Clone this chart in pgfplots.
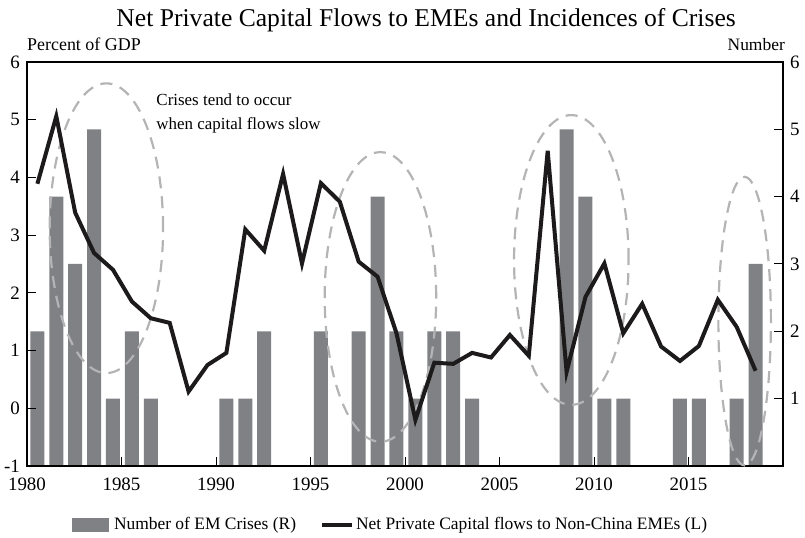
\documentclass[border=0pt]{standalone}
\usepackage{pgfplots}
\pgfplotsset{compat=1.18}
\usepackage{pgfplotstable}
\usepackage{fontspec}
\setmainfont{Liberation Serif}

\definecolor{barcol}{RGB}{128,129,132}
\definecolor{ellcol}{RGB}{180,180,182}
\definecolor{linecol}{RGB}{28,26,26}

% number of EM crises (right axis)
\pgfplotstableread{
year crises
1980 2
1981 4
1982 3
1983 5
1984 1
1985 2
1986 1
1987 0
1988 0
1989 0
1990 1
1991 1
1992 2
1993 0
1994 0
1995 2
1996 0
1997 2
1998 4
1999 2
2000 1
2001 2
2002 2
2003 1
2004 0
2005 0
2006 0
2007 0
2008 5
2009 4
2010 1
2011 1
2012 0
2013 0
2014 1
2015 1
2016 0
2017 1
2018 3
}\crisestable

% net private capital flows, percent of GDP (left axis)
\pgfplotstableread{
year flows
1980 3.89
1981 5.06
1982 3.39
1983 2.69
1984 2.40
1985 1.85
1986 1.56
1987 1.48
1988 0.29
1989 0.75
1990 0.96
1991 3.10
1992 2.73
1993 4.06
1994 2.51
1995 3.90
1996 3.58
1997 2.54
1998 2.28
1999 1.30
2000 -0.20
2001 0.79
2002 0.77
2003 0.96
2004 0.88
2005 1.27
2006 0.91
2007 4.46
2008 0.63
2009 1.93
2010 2.51
2011 1.30
2012 1.81
2013 1.07
2014 0.82
2015 1.08
2016 1.88
2017 1.41
2018 0.65
}\flowtable

\begin{document}
\begin{tikzpicture}
\useasboundingbox (-27bp,-72bp) rectangle (778bp,466bp);
\pgfplotsset{
  base/.style={
    scale only axis, width=756bp, height=404bp,
    at={(0,0)}, anchor=south west,
    xmin=1980, xmax=2020,
    tick align=inside, major tick length=9bp,
    tick style={line width=1bp, black},
    axis line style={line width=2.6bp, black},
    tick label style={font=\fontsize{19}{19}\selectfont, inner sep=1bp},
    /pgf/number format/assume math mode=true,
  },
}

% bars on the right axis
\begin{axis}[base,
  hide x axis,
  axis y line*=right,
  ymin=0, ymax=6, ytick={1,...,6},
  yticklabel style={xshift=6bp},
]
\addplot[ybar, bar width=14bp, fill=barcol, draw=none, x filter/.expression={x+0.55}]
  table[x=year, y=crises] {\crisestable};
\end{axis}

% line on the left axis
\begin{axis}[base,
  clip mode=individual,
  tick pos=left,
  ymin=-1, ymax=6, ytick={-1,...,6},
  yticklabel style={xshift=-6bp},
  xtick={1980,1985,...,2015},
  xticklabels={\raisebox{3bp}{1980},\raisebox{3bp}{1985},1990,1995,2000,2005,2010,2015},
  xticklabel style={yshift=-11bp},
  legend columns=2,
  legend style={at={(0.48,-0.145)}, anchor=center, draw=none, fill=none,
    font=\fontsize{17.5}{17.5}\selectfont,
    /tikz/every even column/.append style={column sep=22bp}},
]
\addlegendimage{legend image code/.code={\fill[barcol] (0bp,-6.5bp) rectangle (36bp,6.5bp); \path (-1bp,0bp) (40bp,0bp);}}
\addlegendentry{Number of EM Crises (R)}

\draw[ellcol, line width=2.2bp, dash pattern=on 12bp off 8bp] (axis cs:1984.2,3.12) ellipse [x radius=3.0, y radius=2.51];
\draw[ellcol, line width=2.2bp, dash pattern=on 12bp off 8bp] (axis cs:1998.7,1.93) ellipse [x radius=2.95, y radius=2.51];
\draw[ellcol, line width=2.2bp, dash pattern=on 12bp off 8bp] (axis cs:2008.8,2.57) ellipse [x radius=3.03, y radius=2.51];
\draw[ellcol, line width=2.2bp, dash pattern=on 12bp off 8bp] (axis cs:2017.97,1.51) ellipse [x radius=1.39, y radius=2.5];

\addplot[linecol, line width=4bp, mark=none, x filter/.expression={x+0.55},
  legend image code/.code={\draw[linecol, line width=4bp] (0bp,0bp) -- (30bp,0bp);}]
  table[x=year, y=flows] {\flowtable};
\addlegendentry{Net Private Capital flows to Non-China EMEs (L)}

\node[anchor=north west, align=left, inner sep=0pt, font=\fontsize{17}{24}\selectfont]
  at (axis cs:1986.84,5.46) {Crises tend to occur\\when capital flows slow};
\node[anchor=base west, inner sep=0pt, font=\fontsize{18}{18}\selectfont]
  at ([yshift=12bp]rel axis cs:0,1) {Percent of GDP};
\node[anchor=base east, inner sep=0pt, font=\fontsize{17.5}{17.5}\selectfont]
  at ([yshift=12bp,xshift=2bp]rel axis cs:1,1) {Number};
\node[anchor=base, inner sep=0pt, font=\fontsize{25.7}{25.7}\selectfont]
  at ([yshift=36bp]rel axis cs:0.528,1) {Net Private Capital Flows to EMEs and Incidences of Crises};
\end{axis}
\end{tikzpicture}
\end{document}
